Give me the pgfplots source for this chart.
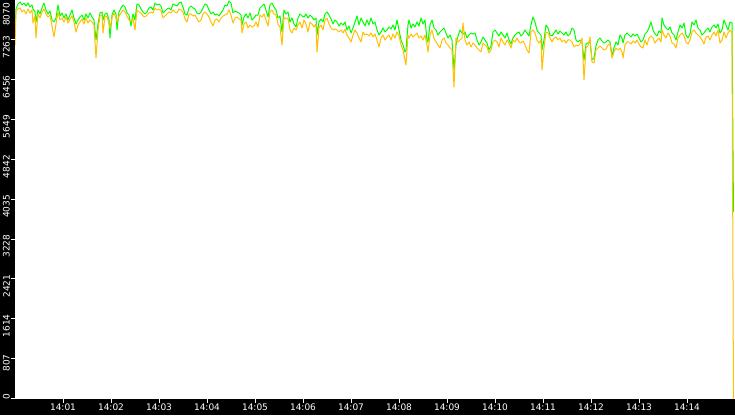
\documentclass[border=0pt]{standalone}
\usepackage{pgfplots}
\pgfplotsset{compat=1.18}
\usepackage{pgfplotstable}
\usepackage{fontspec}
\setmainfont{DejaVu Sans}

\definecolor{lgreen}{RGB}{0,255,0}
\definecolor{amber}{RGB}{255,192,0}

% t = seconds after 14:00:00, g = green series, o = amber series
\pgfplotstableread{
t g o
0 7503 7159
1.25 7888 7847
3.75 7989 7888
6.25 8030 7908
8.75 7969 7827
11.25 8009 7868
13.75 7949 7787
16.25 8009 7888
18.75 7928 7807
21.25 7969 7868
22.5 7888 7604
25 7827 7746
26.25 7625 7301
28.75 7868 7787
31.25 7787 7706
33.75 7908 7827
36.25 8009 7888
38.75 7868 7787
41.25 7787 7726
43.75 7847 7766
46.25 7665 7544
48.75 7625 7321
51.25 7706 7584
53.75 7969 7827
56.25 7746 7665
58.75 7807 7706
61.25 7706 7625
63.75 7787 7726
66.25 7665 7604
68.75 7766 7685
71.25 7868 7746
73.75 7706 7625
76.25 7584 7422
78.75 7665 7564
81.25 7726 7625
83.75 7766 7685
86.25 7665 7584
88.75 7787 7706
91.25 7706 7604
93.75 7807 7665
96.25 7726 7625
98.75 7665 7564
101.25 7260 6896
103.75 7584 7463
106.25 7807 7746
108.75 7827 7766
110 7665 7402
112.5 7787 7726
115 7807 7746
117.5 7665 7584
118.75 7301 7503
121.25 7766 7706
123.75 7868 7807
126.25 7787 7706
127.5 7463 7625
130 7827 7746
132.5 7908 7807
135 7969 7868
137.5 7928 7827
140 7807 7746
142.5 7766 7665
145 7544 7645
147.5 7787 7706
150 7665 7463
152.5 7989 7868
155 7969 7827
157.5 7888 7807
160 7827 7746
162.5 7787 7726
165 7827 7766
167.5 7908 7807
170 7928 7827
172.5 7868 7807
175 8009 7908
177.5 7969 7868
180 7989 7888
182.5 7949 7847
185 7807 7706
187.5 7847 7746
190 7888 7787
192.5 7908 7827
195 7868 7807
197.5 7989 7868
200 7969 7827
202.5 7949 7807
205 8009 7888
207.5 8030 7868
210 7928 7827
212.5 7787 7685
215 7766 7625
217.5 7908 7787
220 7949 7787
222.5 7908 7746
225 7888 7766
227.5 7807 7685
230 7787 7625
232.5 7827 7665
235 7908 7787
237.5 7989 7827
240 7969 7787
242.5 7868 7726
245 7787 7625
247.5 7827 7544
250 7766 7665
252.5 7787 7685
255 7746 7625
257.5 7807 7706
260 7868 7746
262.5 7969 7766
265 7949 7787
267.5 8050 7868
270 8009 7766
272.5 7807 7604
275 7847 7706
277.5 7827 7726
280 7807 7685
282.5 7766 7665
283.75 7564 7402
286.25 7726 7584
288.75 7787 7625
291.25 7706 7503
293.75 7807 7564
296.25 7665 7523
298.75 7706 7544
301.25 7766 7625
303.75 7766 7523
306.25 7908 7766
308.75 7949 7726
311.25 7989 7787
313.75 7868 7665
316.25 7726 7544
318.75 7969 7827
321.25 8009 7868
323.75 7928 7787
326.25 7868 7766
328.75 7706 7584
331.25 7746 7523
333.75 7422 7159
336.25 7868 7726
338.75 7787 7685
341.25 7827 7706
343.75 7625 7463
346.25 7706 7402
348.75 7584 7503
351.25 7523 7463
353.75 7706 7564
356.25 7787 7625
358.75 7746 7503
361.25 7726 7665
363.75 7787 7584
366.25 7706 7422
368.75 7766 7625
371.25 7726 7584
373.75 7665 7523
376.25 7706 7584
377.5 7361 7017
380 7625 7503
382.5 7685 7564
385 7625 7463
387.5 7787 7665
390 7827 7706
392.5 7766 7584
395 7685 7503
397.5 7584 7463
400 7665 7483
402.5 7625 7463
405 7544 7422
407.5 7604 7463
410 7564 7402
412.5 7625 7483
415 7463 7361
417.5 7544 7301
420 7402 7220
422.5 7503 7361
425 7625 7463
427.5 7746 7402
430 7564 7301
432.5 7706 7220
435 7625 7422
437.5 7544 7361
440 7665 7382
442.5 7564 7341
445 7706 7402
447.5 7584 7321
450 7625 7382
452.5 7463 7260
455 7361 7118
457.5 7422 7301
460 7503 7361
462.5 7422 7260
465 7463 7321
467.5 7523 7361
470 7483 7260
472.5 7564 7382
475 7463 7301
477.5 7665 7422
480 7463 7341
482.5 7260 7159
485 7159 7058
487.5 7017 6855
488.75 7058 6754
491.25 7564 7361
492.5 7665 7301
495 7503 7382
497.5 7584 7321
500 7523 7361
502.5 7625 7402
505 7544 7301
507.5 7706 7341
510 7584 7260
512.5 7665 7361
515 7260 7159
516.25 7220 7017
518.75 7564 7361
521.25 7665 7463
523.75 7503 7301
526.25 7463 7220
528.75 7361 7159
531.25 7422 7098
533.75 7463 7260
536.25 7503 7301
538.75 7402 7199
541.25 7301 7159
543.75 7361 7098
546.25 7260 7058
548.75 6653 6308
551.25 7159 7301
553.75 7341 7220
556.25 7463 7260
558.75 7402 7301
560 7382 7604
562.5 7422 7260
565 7301 7159
567.5 7361 7220
570 7402 7118
572.5 7382 7199
575 7402 7159
577.5 7260 7098
580 7159 7058
582.5 7220 7017
585 7321 7199
587.5 7260 7159
590 7199 7118
592.5 7058 6997
595 7139 7058
597.5 7422 7220
600 7463 7260
602.5 7402 7220
605 7341 7118
607.5 7422 7301
610 7361 7220
612.5 7301 7159
615 7402 7260
617.5 7260 7199
620 7179 7098
622.5 7301 7260
625 7361 7220
627.5 7402 7301
630 7422 7220
632.5 7341 7199
635 7382 7240
637.5 7463 7159
640 7402 7058
642.5 7341 6997
645 7564 7422
647.5 7726 7463
650 7625 7402
652.5 7463 7260
655 7402 7199
657.5 7361 7260
658.75 7058 6653
661.25 7260 7098
663.75 7564 7422
666.25 7503 7402
668.75 7361 7301
671.25 7341 7220
673.75 7402 7301
676.25 7463 7321
678.75 7382 7260
681.25 7442 7301
683.75 7402 7220
686.25 7361 7260
688.75 7422 7199
691.25 7341 7260
693.75 7382 7260
696.25 7503 7220
698.75 7463 7118
701.25 7260 7159
703.75 7220 7139
706.25 7260 7179
708.75 7220 7301
711.25 6855 6450
713.75 7179 7098
716.25 7199 7139
718.75 7220 7321
721.25 6855 6815
723.75 6896 6794
726.25 7139 7058
728.75 7260 7098
731.25 7301 7139
733.75 7240 7098
736.25 7199 7058
738.75 7220 7078
741.25 7260 7159
743.75 7220 7179
746.25 6936 6896
748.75 7098 7017
751.25 7220 7098
753.75 7159 7058
756.25 7361 7098
758.75 7301 7017
760 7199 6896
762.5 7361 7159
765 7402 7220
767.5 7361 7220
770 7321 7179
772.5 7382 7240
775 7341 7199
777.5 7382 7260
780 7301 7179
782.5 7220 7118
785 7260 7098
787.5 7382 7260
790 7422 7159
792.5 7503 7301
795 7625 7341
797.5 7463 7301
800 7382 7199
802.5 7341 7260
805 7442 7301
807.5 7402 7220
808.75 7706 7463
811.25 7564 7361
813.75 7503 7301
816.25 7463 7402
818.75 7523 7341
821.25 7402 7199
823.75 7361 7179
826.25 7260 7098
828.75 7422 7301
831.25 7564 7361
833.75 7503 7402
836.25 7604 7341
838.75 7361 7220
841.25 7301 7179
843.75 7382 7260
846.25 7625 7422
848.75 7564 7463
851.25 7665 7402
853.75 7503 7361
856.25 7463 7321
858.75 7361 7260
861.25 7402 7179
863.75 7463 7321
866.25 7503 7341
868.75 7422 7260
871.25 7523 7361
873.75 7564 7422
876.25 7503 7341
878.75 7584 7463
881.25 7402 7199
883.75 7463 7260
886.25 7665 7422
888.75 7564 7301
891.25 7463 7402
893.75 7625 7463
896.25 7604 7402
898.1 3777 0
}\datatable

\begin{document}
\begin{tikzpicture}
\useasboundingbox (0,0) rectangle (735pt,415pt);
\fill[black] (0,0) rectangle (735pt,415pt);
\begin{axis}[
  at={(15pt,16.5pt)},
  anchor=south west,
  scale only axis,
  width=720pt,
  height=398.5pt,
  xmin=0, xmax=900,
  ymin=0, ymax=8070,
  axis background/.style={fill=white},
  axis line style={draw=none},
  tick align=outside,
  xtick pos=bottom,
  ytick pos=left,
  major tick length=4pt,
  tick style={white, line width=1pt},
  xtick={60,120,...,840},
  xticklabels={14:01,14:02,14:03,14:04,14:05,14:06,14:07,14:08,14:09,14:10,14:11,14:12,14:13,14:14},
  ytick={0,807,1614,2421,3228,4035,4842,5649,6456,7263},
  extra y ticks={8070},
  extra y tick style={yticklabel style={xshift=-7.2pt}},
  ticklabel style={font=\fontsize{9}{10}\selectfont, text=white},
  xticklabel style={inner sep=1pt},
  yticklabel style={rotate=90, anchor=south east, inner sep=1pt, xshift=5.5pt},
  /pgf/number format/.cd, 1000 sep={}, assume math mode=true,
]
\addplot[lgreen, line width=1pt, line join=round, no markers] table[x=t, y=g] {\datatable};
\addplot[amber, line width=1pt, line join=round, no markers] table[x=t, y=o] {\datatable};
\end{axis}
\end{tikzpicture}
\end{document}
